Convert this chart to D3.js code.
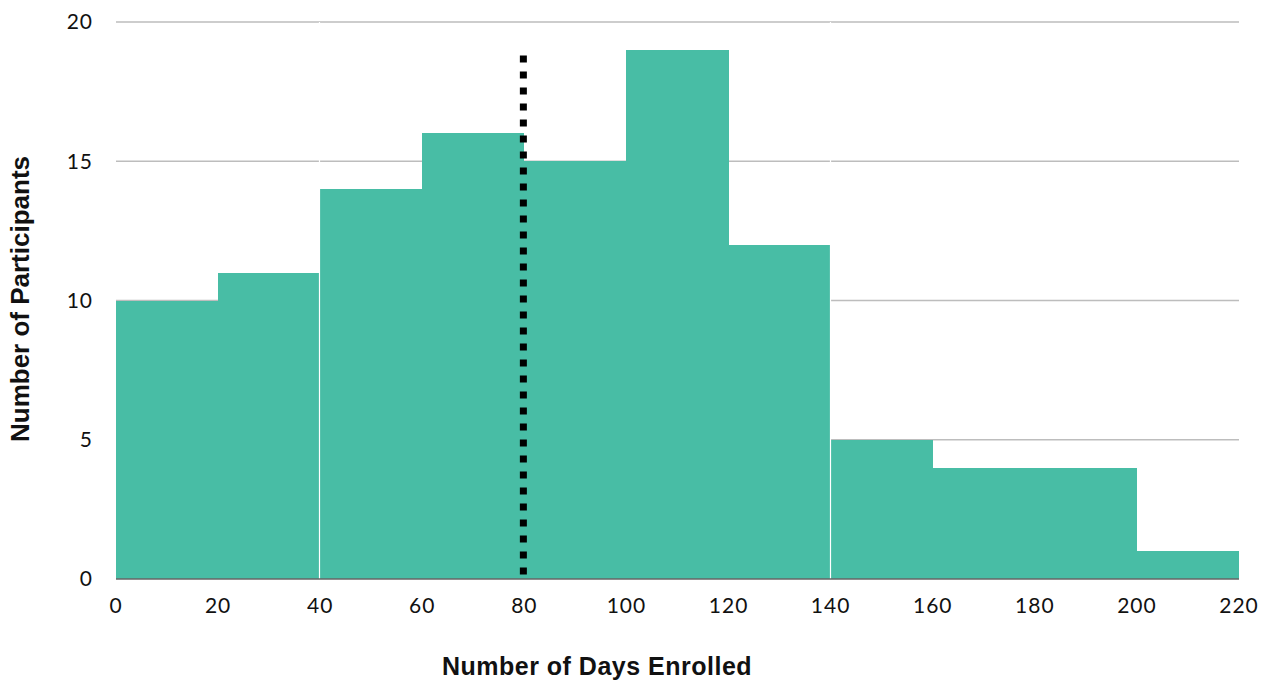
<!DOCTYPE html>
<html><head><meta charset="utf-8">
<script src="https://cdn.jsdelivr.net/npm/d3@7"></script>
<style>body{margin:0;background:#fff;}svg{display:block;}</style>
</head><body>
<svg id="c" width="1263" height="682"></svg>
<script>
const binStarts = [0,20,40,60,80,100,120,140,160,180,200];
const binWidth = 20;
const counts = [10,11,14,16,15,19,12,5,4,4,1];
const separators = [40,140];
const markerValue = 80;
const markerTop = 18.8;
const xTicks = [0,20,40,60,80,100,120,140,160,180,200,220];
const yTicks = [0,5,10,15,20];
const xTitle = "Number of Days Enrolled";
const yTitle = "Number of Participants";

const svg = d3.select("#c");
const m = {l:116, r:1263-1239, t:22, b:682-579};
const W = 1263, H = 682;
const x = d3.scaleLinear().domain([0,220]).range([m.l, W-m.r]);
const y = d3.scaleLinear().domain([0,20]).range([H-m.b, m.t]);
const tickFont = "Lato, 'Open Sans', sans-serif";

// gridlines
svg.append("g").selectAll("line").data(yTicks.filter(d=>d>0)).join("line")
  .attr("x1", x(0)).attr("x2", x(220))
  .attr("y1", d=>y(d)).attr("y2", d=>y(d))
  .attr("stroke", "#bdbdbd").attr("stroke-width", 1.3);

// bars
svg.append("g").selectAll("rect").data(counts.map((c,i)=>({s:binStarts[i], c}))).join("rect")
  .attr("x", d=>x(d.s)).attr("width", d=>x(d.s+binWidth)-x(d.s))
  .attr("y", d=>y(d.c)).attr("height", d=>y(0)-y(d.c))
  .attr("fill", "#48bda5").attr("shape-rendering","crispEdges");

// separators
svg.append("g").selectAll("line").data(separators).join("line")
  .attr("x1", d=>Math.round(x(d))-0.5).attr("x2", d=>Math.round(x(d))-0.5)
  .attr("y1", y(20)).attr("y2", y(0))
  .attr("stroke","#fff").attr("stroke-width",1.2);

// baseline
svg.append("line").attr("x1", x(0)).attr("x2", x(220)).attr("y1", y(0)).attr("y2", y(0))
  .attr("stroke","#666").attr("stroke-width",1.3);

// marker line
svg.append("line").attr("x1", x(markerValue)-1).attr("x2", x(markerValue)-1)
  .attr("y1", y(markerTop)).attr("y2", y(0))
  .attr("stroke","#000").attr("stroke-width",7).attr("stroke-dasharray","7 9");

// y axis labels
svg.append("g").selectAll("text").data(yTicks).join("text")
  .attr("x", 93).attr("y", d=>y(d)).attr("dy","0.35em").attr("text-anchor","end")
  .attr("font-family", tickFont).attr("font-size", 21).attr("letter-spacing", "1px").attr("fill","#111")
  .text(d=>d);

// x axis labels
svg.append("g").selectAll("text").data(xTicks).join("text")
  .attr("x", d=>x(d)).attr("y", 613).attr("text-anchor","middle")
  .attr("font-family", tickFont).attr("font-size", 21).attr("letter-spacing", "1px").attr("fill","#111")
  .text(d=>d);

// titles
svg.append("text").attr("x", 597).attr("y", 675).attr("text-anchor","middle")
  .attr("font-family","'Liberation Sans', Arial, sans-serif").attr("font-weight","bold")
  .attr("font-size", 25).attr("letter-spacing","0.5px").attr("fill","#111").text(xTitle);
svg.append("text").attr("transform", `translate(29,${299}) rotate(-90)`).attr("text-anchor","middle")
  .attr("font-family","'Liberation Sans', Arial, sans-serif").attr("font-weight","bold")
  .attr("font-size", 26).attr("fill","#111").text(yTitle);
</script>
</body></html>
